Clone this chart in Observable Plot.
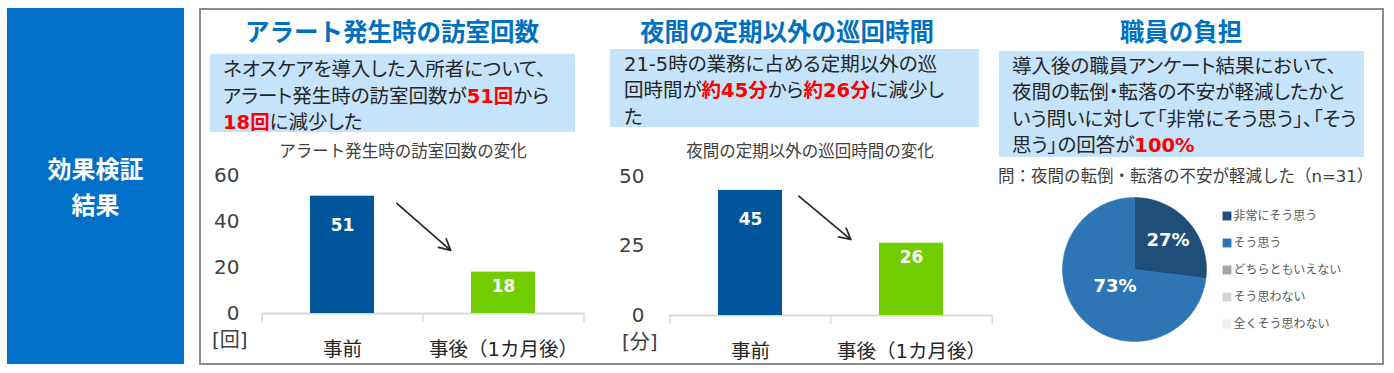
<!DOCTYPE html>
<html><head><meta charset="utf-8">
<script src="https://cdn.jsdelivr.net/npm/d3@7"></script>
<script src="https://cdn.jsdelivr.net/npm/@observablehq/plot@0.6"></script>
<style>
body{margin:0;background:#fff;}
#root{position:relative;width:1394px;height:373px;overflow:hidden;font-family:"DejaVu Sans","Noto Sans CJK JP",sans-serif;color:#262626;}
.abs{position:absolute;}
.side{left:7px;top:8px;width:177px;height:356px;background:#0070C8;}
.sidet{left:7px;width:177px;height:30px;line-height:30px;text-align:center;color:#fff;font-weight:bold;font-size:24px;font-family:"Noto Sans CJK JP",sans-serif;}
.panel{left:199px;top:8px;width:1185px;height:357px;border:2px solid #8c8c8c;box-sizing:border-box;}
.title{top:16px;width:400px;line-height:30px;text-align:center;font-size:24.5px;font-weight:bold;color:#0070C0;font-family:"Noto Sans CJK JP",sans-serif;white-space:nowrap;}
.box{background:#C5E3FA;font-size:19.5px;line-height:26.5px;white-space:nowrap;font-feature-settings:"palt";box-sizing:border-box;color:#262626;}
.red{color:#FF0000;font-weight:bold;}
.sub{top:142px;width:400px;line-height:20px;text-align:center;font-size:16.5px;color:#404040;white-space:nowrap;}
.unit{font-size:20px;line-height:24px;color:#404040;white-space:nowrap;}
.q{left:998px;top:166px;font-size:16.5px;line-height:22px;color:#404040;white-space:nowrap;}
svg{overflow:visible;}
</style>
</head>
<body>
<div id="root">
  <div class="abs side"></div>
  <div class="abs sidet" style="top:153px;">効果検証</div>
  <div class="abs sidet" style="top:189px;">結果</div>
  <div class="abs panel"></div>

  <div class="abs title" style="left:192px;">アラート発生時の訪室回数</div>
  <div class="abs title" style="left:587px;">夜間の定期以外の巡回時間</div>
  <div class="abs title" style="left:981px;">職員の負担</div>

  <div class="abs box" style="left:210px;top:54px;width:365px;height:78px;padding:3px 0 0 13px;">
    ネオスケアを導入した入所者について、<br>
    アラート発生時の訪室回数が<span class="red">51回</span>から<br>
    <span class="red">18回</span>に減少した
  </div>
  <div class="abs box" style="left:610px;top:49px;width:369px;height:78px;padding:2.5px 0 0 14px;">
    21-5時の業務に占める定期以外の巡<br>
    回時間が<span class="red">約45分</span>から<span class="red">約26分</span>に減少し<br>
    た
  </div>
  <div class="abs box" style="left:999px;top:51px;width:365px;height:106px;padding:2.5px 0 0 13px;">
    導入後の職員アンケート結果において、<br>
    夜間の転倒・転落の不安が軽減したかと<br>
    いう問いに対して「非常にそう思う」、「そう<br>
    思う」の回答が<span class="red">100%</span>
  </div>

  <div class="abs sub" style="left:203px;">アラート発生時の訪室回数の変化</div>
  <div class="abs sub" style="left:610px;">夜間の定期以外の巡回時間の変化</div>

  <div class="abs unit" style="left:212px;top:328px;">[回]</div>
  <div class="abs unit" style="left:622px;top:330px;">[分]</div>

  <div class="abs q">問：夜間の転倒・転落の不安が軽減した（n=31）</div>

  <div class="abs" id="chart1" style="left:205px;top:160px;"></div>
  <div class="abs" id="chart2" style="left:612px;top:160px;"></div>
  <div class="abs" id="pie" style="left:1062px;top:197px;"></div>
  <div class="abs" id="legend" style="left:1219px;top:201px;"></div>
</div>
<script>
// ---- data ----
const categories = ["事前", "事後（1カ月後）"];
const visitCounts = [51, 18];          // アラート発生時の訪室回数 [回]
const patrolMinutes = [45, 26];        // 定期以外の巡回時間 [分]
const visitTicks = [0, 20, 40, 60];
const patrolTicks = [0, 25, 50];
const barColors = ["#00569C", "#72CD00"];

const responseCategories = ["非常にそう思う", "そう思う", "どちらともいえない", "そう思わない", "全くそう思わない"];
const responseShares = [27, 73, 0, 0, 0];
const responseColors = ["#1F4E79", "#2E75B6", "#A5A5A5", "#D4D4D4", "#EFEFEF"];

const FONT = '"DejaVu Sans","Noto Sans CJK JP",sans-serif';

function barChart(values, ticks, yMax, o) {
  const data = categories.map((c, i) => ({category: c, value: values[i]}));
  const W = 390, H = 200, ml = 57;
  const step = (W - ml - o.mr) / 2;
  const ruleStyle = {y1: 0, y2: 0, insetBottom: -9, stroke: "#D9D9D9", strokeWidth: 1.5};
  return Plot.plot({
    width: W, height: H,
    marginLeft: ml, marginRight: o.mr, marginTop: o.mt, marginBottom: H - o.mt - o.frameH,
    style: {fontFamily: FONT, background: "transparent", overflow: "visible"},
    x: {type: "band", domain: categories, paddingInner: 0.6, paddingOuter: 0.3},
    y: {domain: [0, yMax]},
    color: {domain: categories, range: barColors},
    marks: [
      Plot.ruleY([0], {stroke: "#D9D9D9", strokeWidth: 2}),
      Plot.ruleX(categories, {x: d => d, dx: -step / 2, ...ruleStyle}),
      Plot.ruleX([categories[1]], {x: d => d, dx: step / 2, ...ruleStyle}),
      Plot.barY(data, {x: "category", y: "value", fill: "category"}),
      Plot.text([data[0]], {x: "category", y: "value", text: d => String(d.value), dy: 29, fill: "white", fontWeight: "bold", fontSize: 17}),
      Plot.text([data[1]], {x: "category", y: "value", text: d => String(d.value), dy: 14, fill: "white", fontWeight: "bold", fontSize: 17}),
      Plot.arrow([{a: categories[0], b: categories[1], y1: o.arrow[0], y2: o.arrow[1]}],
        {x1: "a", y1: "y1", x2: "b", y2: "y2", insetStart: o.arrow[2], insetEnd: o.arrow[3],
         stroke: "#262626", strokeWidth: 1.7, headLength: 11, headAngle: 55}),
      Plot.axisY(ticks, {tickSize: 0, tickPadding: o.tp, fontSize: 20, fill: "#404040", label: null}),
      Plot.axisX({tickSize: 0, tickPadding: 29, fontSize: 19.5, fill: "#262626", label: null})
    ]
  });
}

document.getElementById("chart1").append(
  barChart(visitCounts, visitTicks, 60, {mr: 11, mt: 15, frameH: 138, tp: 23, arrow: [68.4, 7.5, 72, 70]})
);
document.getElementById("chart2").append(
  barChart(patrolMinutes, patrolTicks, 50, {mr: 10, mt: 16, frameH: 139, tp: 25, arrow: [57.5, 9.1, 63, 79]})
);

// ---- pie ----
const responses = responseCategories.map((c, i) => ({category: c, value: responseShares[i], color: responseColors[i]}));
const arcs = d3.pie().sort(null).value(d => d.value)(responses).filter(a => a.value > 0);
const sliceMarks = arcs.map(a => {
  const pts = [{x: 0, y: 0}];
  const n = Math.max(2, Math.ceil((a.endAngle - a.startAngle) / (Math.PI / 180)));
  for (let k = 0; k <= n; k++) {
    const t = a.startAngle + (a.endAngle - a.startAngle) * k / n;
    pts.push({x: Math.sin(t), y: Math.cos(t)});
  }
  pts.push({x: 0, y: 0});
  return Plot.line(pts, {x: "x", y: "y", fill: a.data.color, stroke: a.data.color, strokeWidth: 0.5});
});
const pieLabels = arcs.map(a => {
  const m = (a.startAngle + a.endAngle) / 2;
  const r = a.value < 50 ? 0.62 : 0.36;
  return {x: r * Math.sin(m), y: r * Math.cos(m), text: a.value + "%"};
});
document.getElementById("pie").append(Plot.plot({
  width: 144, height: 144, margin: 0,
  style: {fontFamily: FONT, background: "transparent", overflow: "visible"},
  x: {domain: [-1, 1], axis: null},
  y: {domain: [-1, 1], axis: null},
  marks: [
    ...sliceMarks,
    Plot.text(pieLabels, {x: "x", y: "y", text: "text", fill: "white", fontWeight: "bold", fontSize: 18})
  ]
}));

// ---- legend ----
document.getElementById("legend").append(Plot.plot({
  width: 150, height: 137, margin: 0,
  style: {fontFamily: FONT, background: "transparent", overflow: "visible"},
  y: {type: "band", domain: responseCategories, padding: 0, axis: null},
  color: {domain: responseCategories, range: responseColors},
  marks: [
    Plot.dot(responseCategories, {y: d => d, fill: d => d, symbol: "square", r: 5, frameAnchor: "left", dx: 7.5}),
    Plot.text(responseCategories, {y: d => d, text: d => d, frameAnchor: "left", dx: 14, textAnchor: "start", fill: "#595959", fontSize: 12})
  ]
}));
</script>
</body></html>
